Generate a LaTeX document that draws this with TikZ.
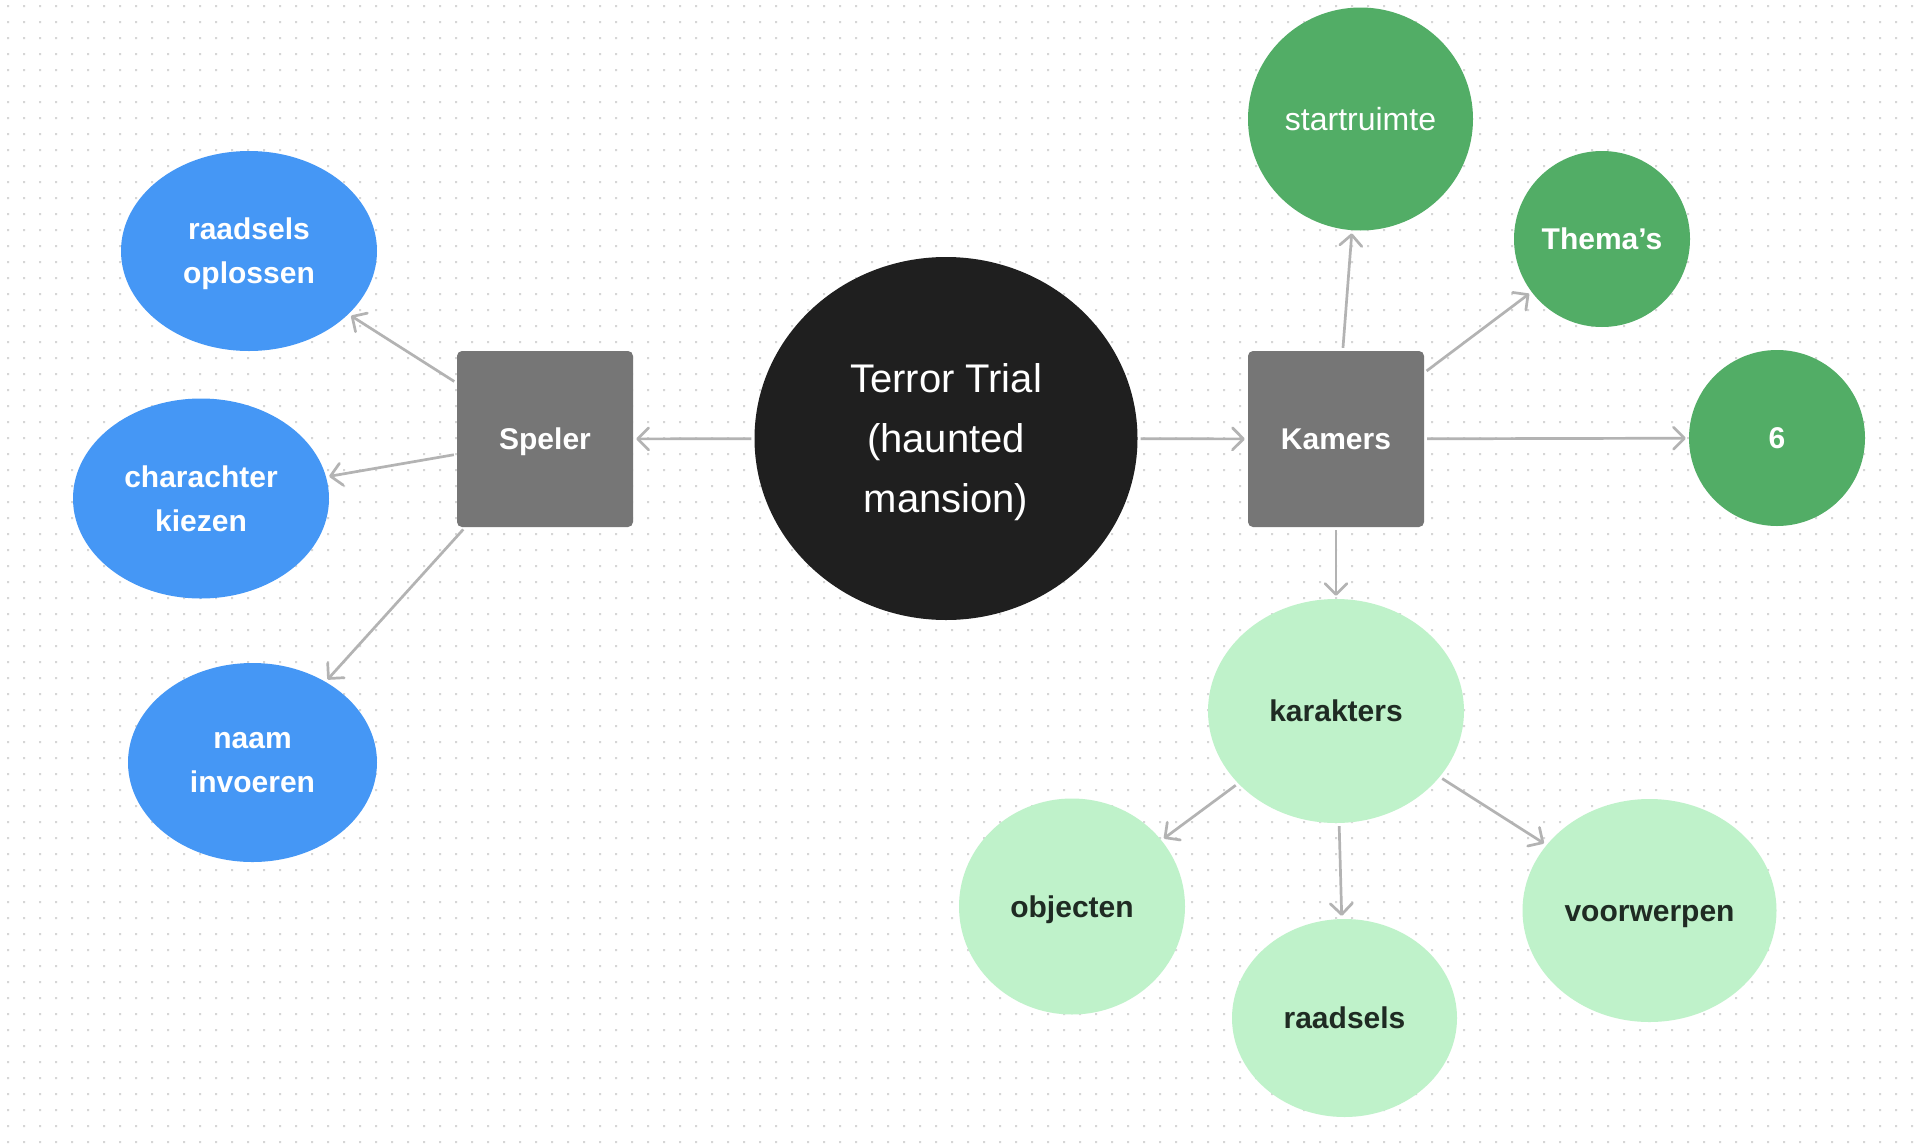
\documentclass[tikz,border=0pt]{standalone}
\usepackage{fontspec}
\setmainfont{Liberation Sans}
\usetikzlibrary{arrows.meta,shapes.geometric}
\definecolor{dotc}{HTML}{D6D6D6}
\definecolor{bluec}{HTML}{4597F5}
\definecolor{grayc}{HTML}{767676}
\definecolor{blackc}{HTML}{1F1F1F}
\definecolor{dgreen}{HTML}{52AD66}
\definecolor{lgreen}{HTML}{BFF2CA}
\definecolor{ltext}{HTML}{1F2B23}
\definecolor{arrc}{HTML}{B3B3B3}
\tikzset{
  vcenter/.style={text depth=0pt, execute at begin node=\vphantom{l}},
  bluenode/.style={ellipse, vcenter, fill=bluec, text=white, font=\fontsize{30}{44}\selectfont\bfseries, align=center, inner sep=0pt},
  graybox/.style={rectangle, vcenter, rounded corners=5pt, fill=grayc, text=white, font=\fontsize{30}{44}\selectfont\bfseries, minimum width=176pt, minimum height=176pt, inner sep=0pt},
  mainnode/.style={ellipse, vcenter, fill=blackc, text=white, font=\fontsize{40}{60}\selectfont, align=center, inner sep=0pt},
  dgnode/.style={ellipse, vcenter, fill=dgreen, text=white, font=\fontsize{30}{40}\selectfont\bfseries, inner sep=0pt},
  lgnode/.style={ellipse, vcenter, fill=lgreen, text=ltext, font=\fontsize{30}{40}\selectfont\bfseries, inner sep=0pt},
  conn/.style={draw=arrc, line width=2.7pt, shorten <=3pt, shorten >=3pt, -{Straight Barb[length=11pt,width=22pt,round]}},
}
\begin{document}
\begin{tikzpicture}[x=1pt,y=-1pt]
\useasboundingbox (0,0) rectangle (1918,1143);
\fill[white] (0,0) rectangle (1918,1143);
\foreach \j in {0,...,71} {
  \fill[dotc] \foreach \i in {0,...,119} { (7+16*\i, 5+16*\j) rectangle ++(2,2) };
}
% main
\node[mainnode, minimum width=383pt, minimum height=363pt] (main) at (946,438.5) {Terror Trial\\(haunted\\mansion)};
% gray boxes
\node[graybox] (speler) at (545,439) {Speler};
\node[graybox] (kamers) at (1336,439) {Kamers};
% blue
\node[bluenode, minimum width=256pt, minimum height=200pt] (ro) at (249,251) {raadsels\\oplossen};
\node[bluenode, minimum width=256pt, minimum height=200pt] (ck) at (201,498.5) {charachter\\kiezen};
\node[bluenode, minimum width=249pt, minimum height=199pt] (ni) at (252.5,762.5) {naam\\invoeren};
% dark green
\node[dgnode, minimum width=225pt, minimum height=223pt, font=\fontsize{32}{40}\selectfont] (start) at (1360.5,119) {startruimte};
\node[dgnode, minimum width=176pt, minimum height=176pt] (thema) at (1602,239) {Thema’s};
\node[dgnode, minimum width=176pt, minimum height=176pt] (six) at (1777,438) {6};
% light green
\node[lgnode, minimum width=256pt, minimum height=224pt] (kar) at (1336,711) {karakters};
\node[lgnode, minimum width=226pt, minimum height=216pt] (obj) at (1072,906.5) {objecten};
\node[lgnode, minimum width=225pt, minimum height=198pt] (raad) at (1344.5,1018) {raadsels};
\node[lgnode, minimum width=254pt, minimum height=223pt] (voor) at (1649.5,910.5) {voorwerpen};
% connectors
\draw[conn] (main) -- (speler);
\draw[conn] (main) -- (kamers);
\draw[conn] (speler) -- (ro);
\draw[conn] (speler) -- (ck);
\draw[conn] (speler) -- (ni);
\draw[conn] (kamers) -- (start);
\draw[conn] (kamers) -- (thema);
\draw[conn] (kamers) -- (six);
\draw[conn] (kamers) -- (kar);
\draw[conn] (kar) -- (obj);
\draw[conn] (kar) -- (raad);
\draw[conn] (kar) -- (voor);
\end{tikzpicture}
\end{document}
